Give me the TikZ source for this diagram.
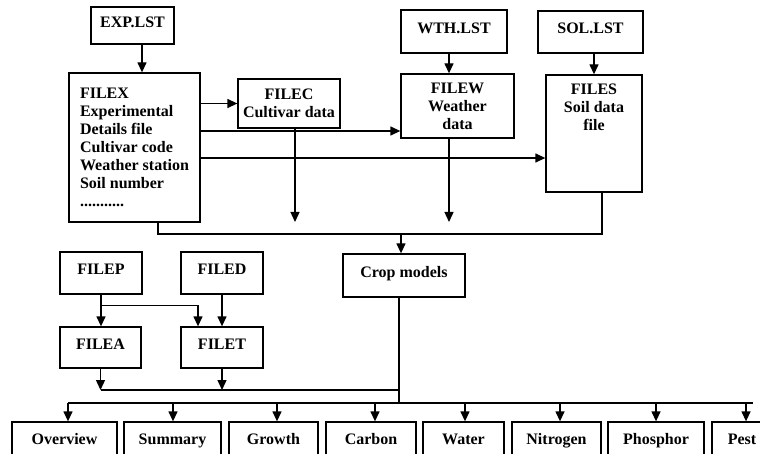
\documentclass[tikz,border=0pt]{standalone}
\usepackage{fontspec}
\setmainfont{Liberation Serif}
\usetikzlibrary{arrows.meta,calc}

\begin{document}
\begin{tikzpicture}[x=1pt,y=-1pt,
    box/.style={draw, line width=1.3pt, inner sep=0pt, font=\fontsize{16}{18}\selectfont\bfseries},
    onebox/.style={box, text height=11pt, text depth=7.5pt},
    arr/.style={line width=1.3pt, -{Triangle[length=10pt,width=9pt]}},
    wire/.style={line width=1.3pt}]
\useasboundingbox (0,0) rectangle (760,454);

% input files
\node[onebox, minimum width=83pt, minimum height=37pt] (exp) at (132.5,25.5) {EXP.LST};
\node[box, minimum width=131pt, minimum height=149pt, align=left] (filex) at (134.5,147.5)
    {FILEX\\Experimental\\Details file\\Cultivar code\\Weather station\\Soil number\\...........};
\node[box, minimum width=102pt, minimum height=49pt, align=center] (filec) at (289,103.5) {FILEC\\Cultivar data};
\node[onebox, minimum width=106pt, minimum height=43pt] (wth) at (454,31.5) {WTH.LST};
\node[box, minimum width=113pt, minimum height=64pt, align=center] (filew) at (457.5,106) {FILEW\\Weather\\data};
\node[onebox, minimum width=105pt, minimum height=42pt] (sol) at (590.5,32) {SOL.LST};
\node[box, minimum width=96pt, minimum height=117pt] (files) at (594,133.5) {};
\node[box, draw=none, anchor=north, align=center] (filestxt) at ([yshift=-9pt]files.north) {FILES\\Soil data\\file};

% model and extra files
\node[onebox, minimum width=122pt, minimum height=43pt] (crop) at (404,275.5) {Crop models};
\node[onebox, minimum width=82pt, minimum height=42pt] (filep) at (101,273) {FILEP};
\node[onebox, minimum width=82pt, minimum height=42pt] (filed) at (222,273) {FILED};
\node[onebox, minimum width=81pt, minimum height=41pt] (filea) at (100.5,347.5) {FILEA};
\node[onebox, minimum width=82pt, minimum height=41pt] (filet) at (222,347.5) {FILET};

\coordinate (drop) at (0,222);
\coordinate (inbus) at (0,234);
\coordinate (midbus) at (0,390);
\coordinate (outbus) at (0,403);

% top connectors
\draw[arr] ([xshift=9.5pt]exp.south) -- ([xshift=9.5pt]exp.south |- filex.north);
\draw[arr] (filec.west -| filex.east) -- (filec.west);
\draw[arr] ([yshift=16.5pt]filex.east) -- ([yshift=16.5pt]filex.east -| filew.west);
\draw[arr] ([yshift=-10.5pt]filex.east) -- ([yshift=-10.5pt]filex.east -| files.west);
\draw[arr] ([xshift=-5pt]wth.south) -- ([xshift=-5pt]wth.south |- filew.north);
\draw[arr] (files.north |- sol.south) -- (files.north);
\draw[arr] ([xshift=6pt]filec.south) -- ([xshift=6pt]filec.south |- drop);
\draw[arr] ([xshift=-8.5pt]filew.south) -- ([xshift=-8.5pt]filew.south |- drop);
\draw[wire] ([xshift=23.5pt]filex.south) |- ([xshift=8pt]files.south |- inbus) -- ([xshift=8pt]files.south);
\draw[arr] ([xshift=-3pt]crop.north |- inbus) -- ([xshift=-3pt]crop.north);

% middle connectors
\draw[arr] (filep.south) -- (filep.south |- filea.north);
\draw[arr] ($(filep.south)!0.35!(filep.south |- filea.north)$) -| ([xshift=-24pt]filet.north);
\draw[arr] (filed.south) -- (filet.north);
\draw[arr] (filea.south) -- (filea.south |- midbus);
\draw[arr] (filet.south) -- (filet.south |- midbus);
\draw[wire] (filea.south |- midbus) -- ([xshift=-5pt]crop.south |- midbus);
\draw[wire] ([xshift=-5pt]crop.south) -- ([xshift=-5pt]crop.south |- outbus);

% output files
\foreach \n/\x/\w/\dx/\t in {overview/64.5/105/3.5/Overview, summary/172.5/97/0.5/Summary,
    growth/273.5/89/3.5/Growth, carbon/371/90/4/Carbon, water/463.5/81/1.5/Water,
    nitrogen/556.5/89/3.5/Nitrogen, phosphor/656/96/0/Phosphor, pest/742/60/4/Pest} {
  \node[onebox, minimum width=\w pt, minimum height=42pt] (\n) at (\x,443) {\t};
  \draw[arr] ([xshift=\dx pt]\n.north |- outbus) -- ([xshift=\dx pt]\n.north);
}
\draw[wire] ([xshift=3.5pt]overview.north |- outbus) -- ([xshift=11pt]pest.north |- outbus);
\end{tikzpicture}
\end{document}
